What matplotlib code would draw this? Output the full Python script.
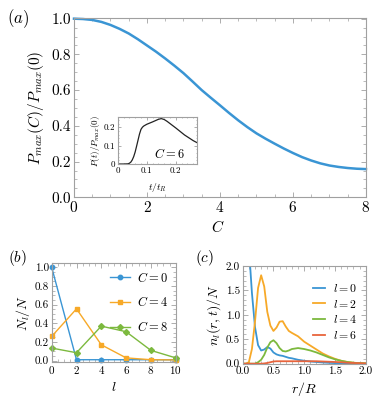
import numpy as np
import matplotlib
matplotlib.use("Agg")
import matplotlib.pyplot as plt
from matplotlib.ticker import MultipleLocator, FormatStrFormatter, FuncFormatter

plt.rcParams['font.family'] = 'serif'
plt.rcParams['font.serif'] = ['cmr10', 'DejaVu Serif']
plt.rcParams['mathtext.fontset'] = 'cm'
plt.rcParams['axes.formatter.use_mathtext'] = True

# panel (a): Pmax(C)/Pmax(0)
C_vals = [0, 0.25, 0.5, 0.75, 1.0, 1.25, 1.5, 1.75, 2.0, 2.25, 2.5, 2.75, 3.0, 3.25, 3.5, 3.75,
          4.0, 4.25, 4.5, 4.75, 5.0, 5.25, 5.5, 5.75, 6.0, 6.25, 6.5, 6.75, 7.0, 7.25, 7.5, 7.75, 8.0]
Pmax_ratio = [1.0, 0.998, 0.993, 0.982, 0.965, 0.943, 0.917, 0.885, 0.85, 0.815, 0.777, 0.737,
              0.695, 0.648, 0.60, 0.557, 0.515, 0.472, 0.431, 0.393, 0.358, 0.328, 0.30, 0.273,
              0.248, 0.225, 0.206, 0.19, 0.178, 0.17, 0.164, 0.16, 0.158]

# inset: P(t)/Pmax(0) for C = 6
t_vals = [0, 0.02, 0.035, 0.04, 0.045, 0.05, 0.055, 0.06, 0.065, 0.07, 0.075, 0.08, 0.085, 0.09,
          0.10, 0.12, 0.14, 0.15, 0.16, 0.17, 0.20, 0.23, 0.26, 0.272]
P_t = [0, 0, 0.001, 0.004, 0.01, 0.022, 0.04, 0.065, 0.097, 0.13, 0.163, 0.188, 0.2, 0.207,
       0.216, 0.229, 0.243, 0.247, 0.242, 0.232, 0.196, 0.158, 0.127, 0.117]

# panel (b): N_l/N
l_vals = [0, 2, 4, 6, 8, 10]
N_C0 = [1.0, 0.01, 0.01, 0.01, 0.01, 0.01]
N_C4 = [0.26, 0.555, 0.17, 0.03, 0.01, 0.008]
N_C8 = [0.135, 0.085, 0.37, 0.31, 0.11, 0.03]

# panel (c): n_l(r,t)/N
r_vals = [0, 0.05, 0.1, 0.15, 0.2, 0.25, 0.3, 0.35, 0.4, 0.45, 0.5, 0.55, 0.6, 0.65, 0.7, 0.75,
          0.8, 0.9, 1.0, 1.1, 1.2, 1.3, 1.4, 1.5, 1.6, 1.7, 1.8, 1.9, 2.0]
n_l0 = [5.0, 3.8, 2.4, 1.45, 0.75, 0.38, 0.27, 0.29, 0.34, 0.31, 0.23, 0.19, 0.17, 0.16, 0.14,
        0.12, 0.11, 0.08, 0.06, 0.045, 0.035, 0.025, 0.018, 0.012, 0.008, 0.005, 0.003, 0.002, 0.001]
n_l2 = [0, 0, 0.03, 0.3, 0.86, 1.55, 1.81, 1.58, 1.06, 0.78, 0.67, 0.74, 0.86, 0.87, 0.76,
        0.67, 0.63, 0.56, 0.45, 0.37, 0.29, 0.21, 0.15, 0.10, 0.06, 0.035, 0.02, 0.01, 0.005]
n_l4 = [0, 0, 0, 0, 0, 0.03, 0.08, 0.18, 0.33, 0.44, 0.48, 0.42, 0.32, 0.26, 0.25, 0.27,
        0.30, 0.32, 0.30, 0.27, 0.23, 0.18, 0.13, 0.09, 0.06, 0.035, 0.02, 0.01, 0.005]
n_l6 = [0, 0, 0, 0, 0, 0, 0, 0.005, 0.015, 0.03, 0.045, 0.05, 0.05, 0.05, 0.05, 0.05,
        0.05, 0.05, 0.05, 0.05, 0.05, 0.045, 0.04, 0.035, 0.03, 0.02, 0.015, 0.01, 0.005]

blue = '#3a95d4'
orange = '#f7a928'
green = '#7cb93e'
red = '#e8643c'
frame_col = '#a0a0a0'


def style(ax, size):
    for s in ax.spines.values():
        s.set_color(frame_col)
        s.set_linewidth(0.8)
    ax.tick_params(which='both', direction='in', top=True, right=True, color=frame_col,
                   labelsize=size, pad=2)
    ax.tick_params(which='major', length=3.5, width=0.6)
    ax.tick_params(which='minor', length=2, width=0.5)


def short_fmt(v, pos):
    return '0' if v == 0 else '%.1f' % v


fig = plt.figure(figsize=(3.89, 4.08), dpi=100)

# (a)
ax1 = fig.add_axes([0.1902, 0.5164, 0.7506, 0.4400])
ax1.plot(C_vals, Pmax_ratio, color=blue, lw=1.8, clip_on=False)
ax1.set_xlim(0, 8)
ax1.set_ylim(0, 1.005)
ax1.xaxis.set_major_locator(MultipleLocator(2))
ax1.xaxis.set_minor_locator(MultipleLocator(0.5))
ax1.yaxis.set_major_locator(MultipleLocator(0.2))
ax1.yaxis.set_minor_locator(MultipleLocator(0.05))
ax1.yaxis.set_major_formatter(FormatStrFormatter('%.1f'))
style(ax1, 11)
ax1.set_ylabel(r'$P_{max}(C)/P_{max}(0)$', fontsize=11, labelpad=4)
fig.text(18 / 389, 1 - 19 / 408, r'$(a)$', fontsize=12, ha='center', va='center')
fig.text(218 / 389, 1 - 227 / 408, r'$C$', fontsize=11, ha='center', va='center')

# inset
axi = fig.add_axes([0.3026, 0.5980, 0.2031, 0.1145])
axi.plot(t_vals, P_t, color='#222222', lw=0.9)
axi.set_xlim(0, 0.272)
axi.set_ylim(0, 0.254)
axi.xaxis.set_major_locator(MultipleLocator(0.1))
axi.xaxis.set_minor_locator(MultipleLocator(0.02))
axi.yaxis.set_major_locator(MultipleLocator(0.1))
axi.yaxis.set_minor_locator(MultipleLocator(0.02))
axi.xaxis.set_major_formatter(FuncFormatter(short_fmt))
axi.yaxis.set_major_formatter(FuncFormatter(short_fmt))
style(axi, 6.5)
axi.tick_params(which='major', length=2)
axi.tick_params(which='minor', length=1)
axi.set_ylabel(r'$P(t)/P_{max}(0)$', fontsize=6.5, labelpad=1)
axi.set_xlabel(r'$t/t_R$', fontsize=7, labelpad=4)
axi.text(0.65, 0.22, r'$C=6$', transform=axi.transAxes, fontsize=9, ha='center', va='center')

# (b)
ax2 = fig.add_axes([0.1329, 0.1135, 0.3188, 0.2412])
ax2.plot(l_vals, N_C0, color=blue, marker='o', ms=3.2, lw=1.0, label=r'$C=0$', clip_on=False)
ax2.plot(l_vals, N_C4, color=orange, marker='s', ms=3.2, lw=1.0, label=r'$C=4$', clip_on=False)
ax2.plot(l_vals, N_C8, color=green, marker='D', ms=3.0, lw=1.0, label=r'$C=8$', clip_on=False)
ax2.set_xlim(0, 10)
ax2.set_ylim(-0.011, 1.043)
ax2.xaxis.set_major_locator(MultipleLocator(2))
ax2.xaxis.set_minor_locator(MultipleLocator(0.5))
ax2.yaxis.set_major_locator(MultipleLocator(0.2))
ax2.yaxis.set_minor_locator(MultipleLocator(0.05))
ax2.yaxis.set_major_formatter(FormatStrFormatter('%.1f'))
style(ax2, 8)
ax2.set_ylabel(r'$N_l/N$', fontsize=10, labelpad=2)
ax2.set_xlabel(r'$l$', fontsize=10, labelpad=3)
ax2.legend(loc='upper right', frameon=False, fontsize=9, handlelength=1.6, handletextpad=0.6,
           labelspacing=0.85, borderaxespad=0.2, bbox_to_anchor=(1.0, 1.0))
fig.text(17 / 389, 1 - 258 / 408, r'$(b)$', fontsize=11, ha='center', va='center')

# (c)
ax3 = fig.add_axes([0.6239, 0.1086, 0.3162, 0.2395])
ax3.plot(r_vals, n_l0, color=blue, lw=1.3, label=r'$l=0$')
ax3.plot(r_vals, n_l2, color=orange, lw=1.3, label=r'$l=2$')
ax3.plot(r_vals, n_l4, color=green, lw=1.3, label=r'$l=4$')
ax3.plot(r_vals, n_l6, color=red, lw=1.3, label=r'$l=6$')
ax3.set_xlim(0, 2)
ax3.set_ylim(0, 2)
ax3.xaxis.set_major_locator(MultipleLocator(0.5))
ax3.xaxis.set_minor_locator(MultipleLocator(0.1))
ax3.yaxis.set_major_locator(MultipleLocator(0.5))
ax3.yaxis.set_minor_locator(MultipleLocator(0.1))
ax3.xaxis.set_major_formatter(FormatStrFormatter('%.1f'))
ax3.yaxis.set_major_formatter(FormatStrFormatter('%.1f'))
style(ax3, 8)
ax3.set_ylabel(r'$n_l(r,t)/N$', fontsize=10, labelpad=2)
ax3.set_xlabel(r'$r/R$', fontsize=10, labelpad=3)
ax3.legend(loc='upper right', frameon=False, fontsize=8.5, handlelength=1.0, handletextpad=0.7,
           labelspacing=0.3, borderaxespad=0.3, bbox_to_anchor=(1.0, 0.92))
fig.text(205 / 389, 1 - 258 / 408, r'$(c)$', fontsize=11, ha='center', va='center')

fig.savefig('out.png', dpi=100)
